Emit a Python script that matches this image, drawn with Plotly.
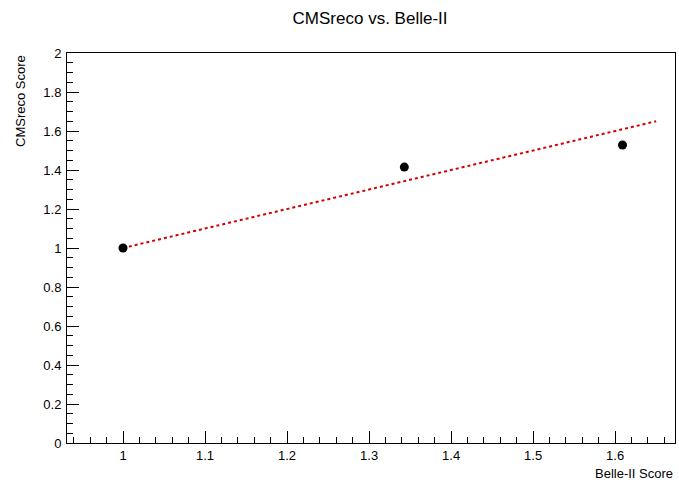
import plotly.graph_objects as go

# Data
belle_scores = [1.0, 1.343, 1.609]
cmsreco_scores = [1.0, 1.415, 1.528]
ref_line_x = [1.0, 1.65]
ref_line_y = [1.0, 1.65]

title_text = "CMSreco vs. Belle-II"
x_title = "Belle-II Score"
y_title = "CMSreco Score"

FONT = "Liberation Sans, Arial, Helvetica, sans-serif"

fig = go.Figure()
fig.add_trace(go.Scatter(
    x=ref_line_x, y=ref_line_y, mode="lines",
    line=dict(color="rgb(210,0,0)", width=2, dash="dot"),
    showlegend=False, hoverinfo="skip"))
fig.add_trace(go.Scatter(
    x=belle_scores, y=cmsreco_scores, mode="markers",
    marker=dict(color="black", size=9),
    showlegend=False))

fig.update_layout(
    width=679, height=482,
    margin=dict(l=67, r=4, t=53, b=39),
    paper_bgcolor="white", plot_bgcolor="white",
    font=dict(family=FONT, size=13, color="black"),
    title=dict(text=title_text, x=0.545, xanchor="center", y=1 - 18/482, yanchor="middle",
               font=dict(family=FONT, size=17, color="black")),
)

fig.update_xaxes(
    range=[0.9317, 1.673], tickmode="linear", tick0=1.0, dtick=0.1,
    ticks="inside", ticklen=12, tickcolor="black", tickwidth=1,
    minor=dict(ticks="inside", ticklen=6, dtick=0.02, tick0=1.0, tickcolor="black"),
    showline=True, linecolor="black", linewidth=1, mirror=True,
    showgrid=False, zeroline=False,
    tickfont=dict(family=FONT, size=13, color="black"),
)
fig.update_yaxes(
    range=[0, 2], tickmode="linear", tick0=0, dtick=0.2,
    ticks="inside", ticklen=12, tickcolor="black", tickwidth=1,
    minor=dict(ticks="inside", ticklen=6, dtick=0.05, tick0=0, tickcolor="black"),
    showline=True, linecolor="black", linewidth=1, mirror=True,
    showgrid=False, zeroline=False,
    tickfont=dict(family=FONT, size=13, color="black"),
    ticklabelstandoff=2,
)

fig.add_annotation(
    text=x_title, xref="paper", yref="paper", x=1.0, y=0, xanchor="right", yanchor="top",
    yshift=-21, showarrow=False, font=dict(family=FONT, size=13, color="black"))
fig.add_annotation(
    text=y_title, xref="paper", yref="paper", x=0, y=1.0, xanchor="center", yanchor="top",
    xshift=-47, textangle=-90, showarrow=False, font=dict(family=FONT, size=13, color="black"))

fig.write_html("out.html")
